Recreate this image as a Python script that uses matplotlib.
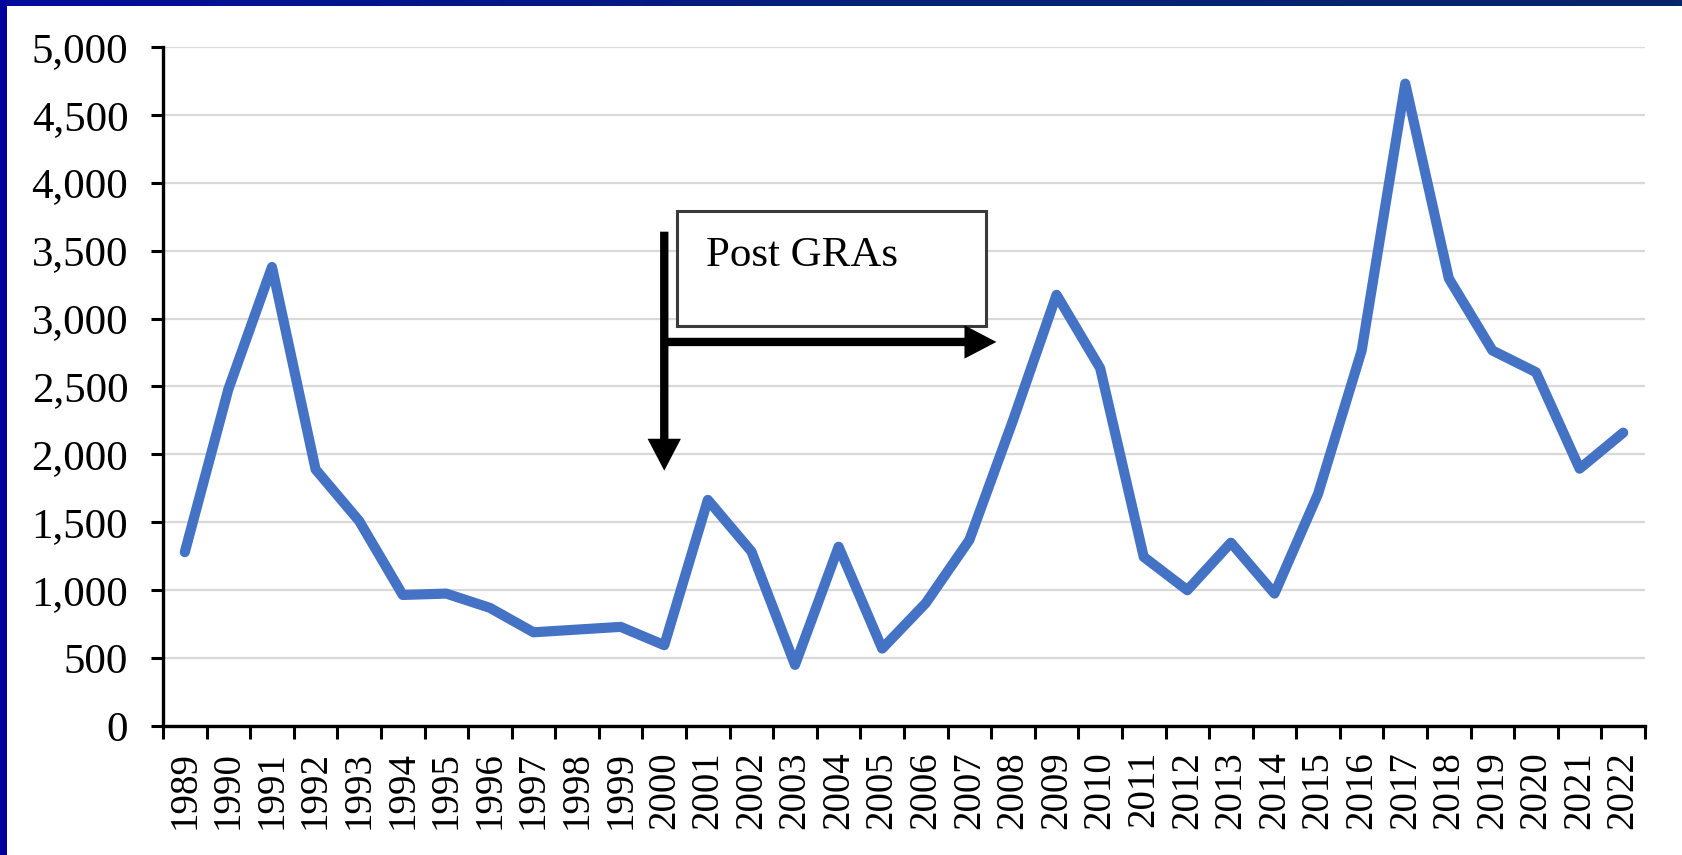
import numpy as np
import matplotlib
matplotlib.use('Agg')
import matplotlib.pyplot as plt
from matplotlib.patches import Rectangle
from matplotlib.colors import LinearSegmentedColormap
from matplotlib.ticker import FuncFormatter, FixedLocator

# Data
years = list(range(1989, 2023))
values = [1280, 2480, 3380, 1890, 1510, 965, 975, 870, 690, 710,
          730, 595, 1665, 1285, 450, 1320, 570, 905, 1370, 2250,
          3175, 2635, 1245, 1000, 1350, 975, 1710, 2765, 4730, 3295,
          2765, 2605, 1895, 2160]
y_ticks = list(range(0, 5001, 500))
note_text = 'Post GRAs'

plt.rcParams['font.family'] = ['Liberation Serif', 'DejaVu Serif']

fig = plt.figure(figsize=(16.83, 8.55), dpi=100)
fig.patch.set_facecolor('white')

W, H = 1683, 855
ax = fig.add_axes([163 / W, 1 - 726 / H, (1645 - 163) / W, (726 - 47) / H])

x = np.arange(len(years))
ax.plot(x, values, color='#4472C4', linewidth=7.3, solid_joinstyle='round',
        solid_capstyle='round', zorder=3)

# axes styling (Excel-like)
ax.set_xlim(-0.5, len(years) - 0.5)
ax.set_ylim(0, 5000)
ax.set_yticks(y_ticks)
ax.yaxis.set_major_formatter(FuncFormatter(lambda v, p: f'{int(v):,}'))
ax.grid(axis='y', color='#d9d9d9', linewidth=1.6, zorder=0)
ax.set_axisbelow(True)

ax.set_xticks(x)
ax.set_xticklabels([str(y) for y in years], rotation=90, fontsize=28)
ax.xaxis.set_minor_locator(FixedLocator(np.arange(-0.5, len(years), 1.0)))
ax.tick_params(axis='x', which='major', length=0, pad=18)
ax.tick_params(axis='x', which='minor', length=9, width=2.2, color='black')
ax.tick_params(axis='y', length=9, width=2.2, pad=16, labelsize=31)

for side in ['top', 'right']:
    ax.spines[side].set_visible(False)
for side in ['left', 'bottom']:
    ax.spines[side].set_linewidth(2.4)
    ax.spines[side].set_color('black')

# "Post GRAs" annotation box and arrows
box = Rectangle((11.29, 2945), 18.38 - 11.29, 3792 - 2945, facecolor='white',
                edgecolor='#3a3a3a', linewidth=2.2, zorder=4)
ax.add_patch(box)
ax.text(11.95, 3460, note_text, fontsize=31, ha='left', va='center', zorder=5)

arrow_style = 'simple,head_length=2.3,head_width=2.4,tail_width=0.6'
ax.annotate('', xy=(11.0, 1880), xytext=(11.0, 3640),
            arrowprops=dict(arrowstyle=arrow_style, color='black', lw=0,
                            shrinkA=0, shrinkB=0, mutation_scale=10), zorder=6)
ax.annotate('', xy=(18.62, 2828), xytext=(10.95, 2828),
            arrowprops=dict(arrowstyle=arrow_style, color='black', lw=0,
                            shrinkA=0, shrinkB=0, mutation_scale=10), zorder=6)

# navy frame on top and left
top = fig.add_axes([0, 1 - 6 / H, 1, 6 / H])
cmap = LinearSegmentedColormap.from_list('navy', ['#000c9c', '#04207a', '#06256b'])
top.imshow(np.linspace(0, 1, 256).reshape(1, -1), aspect='auto', cmap=cmap)
top.axis('off')
left = fig.add_axes([0, 0, 7 / W, 1])
left.add_patch(Rectangle((0, 0), 1, 1, color='#00009c'))
left.axis('off')

fig.savefig('out.png', dpi=100, facecolor='white')
